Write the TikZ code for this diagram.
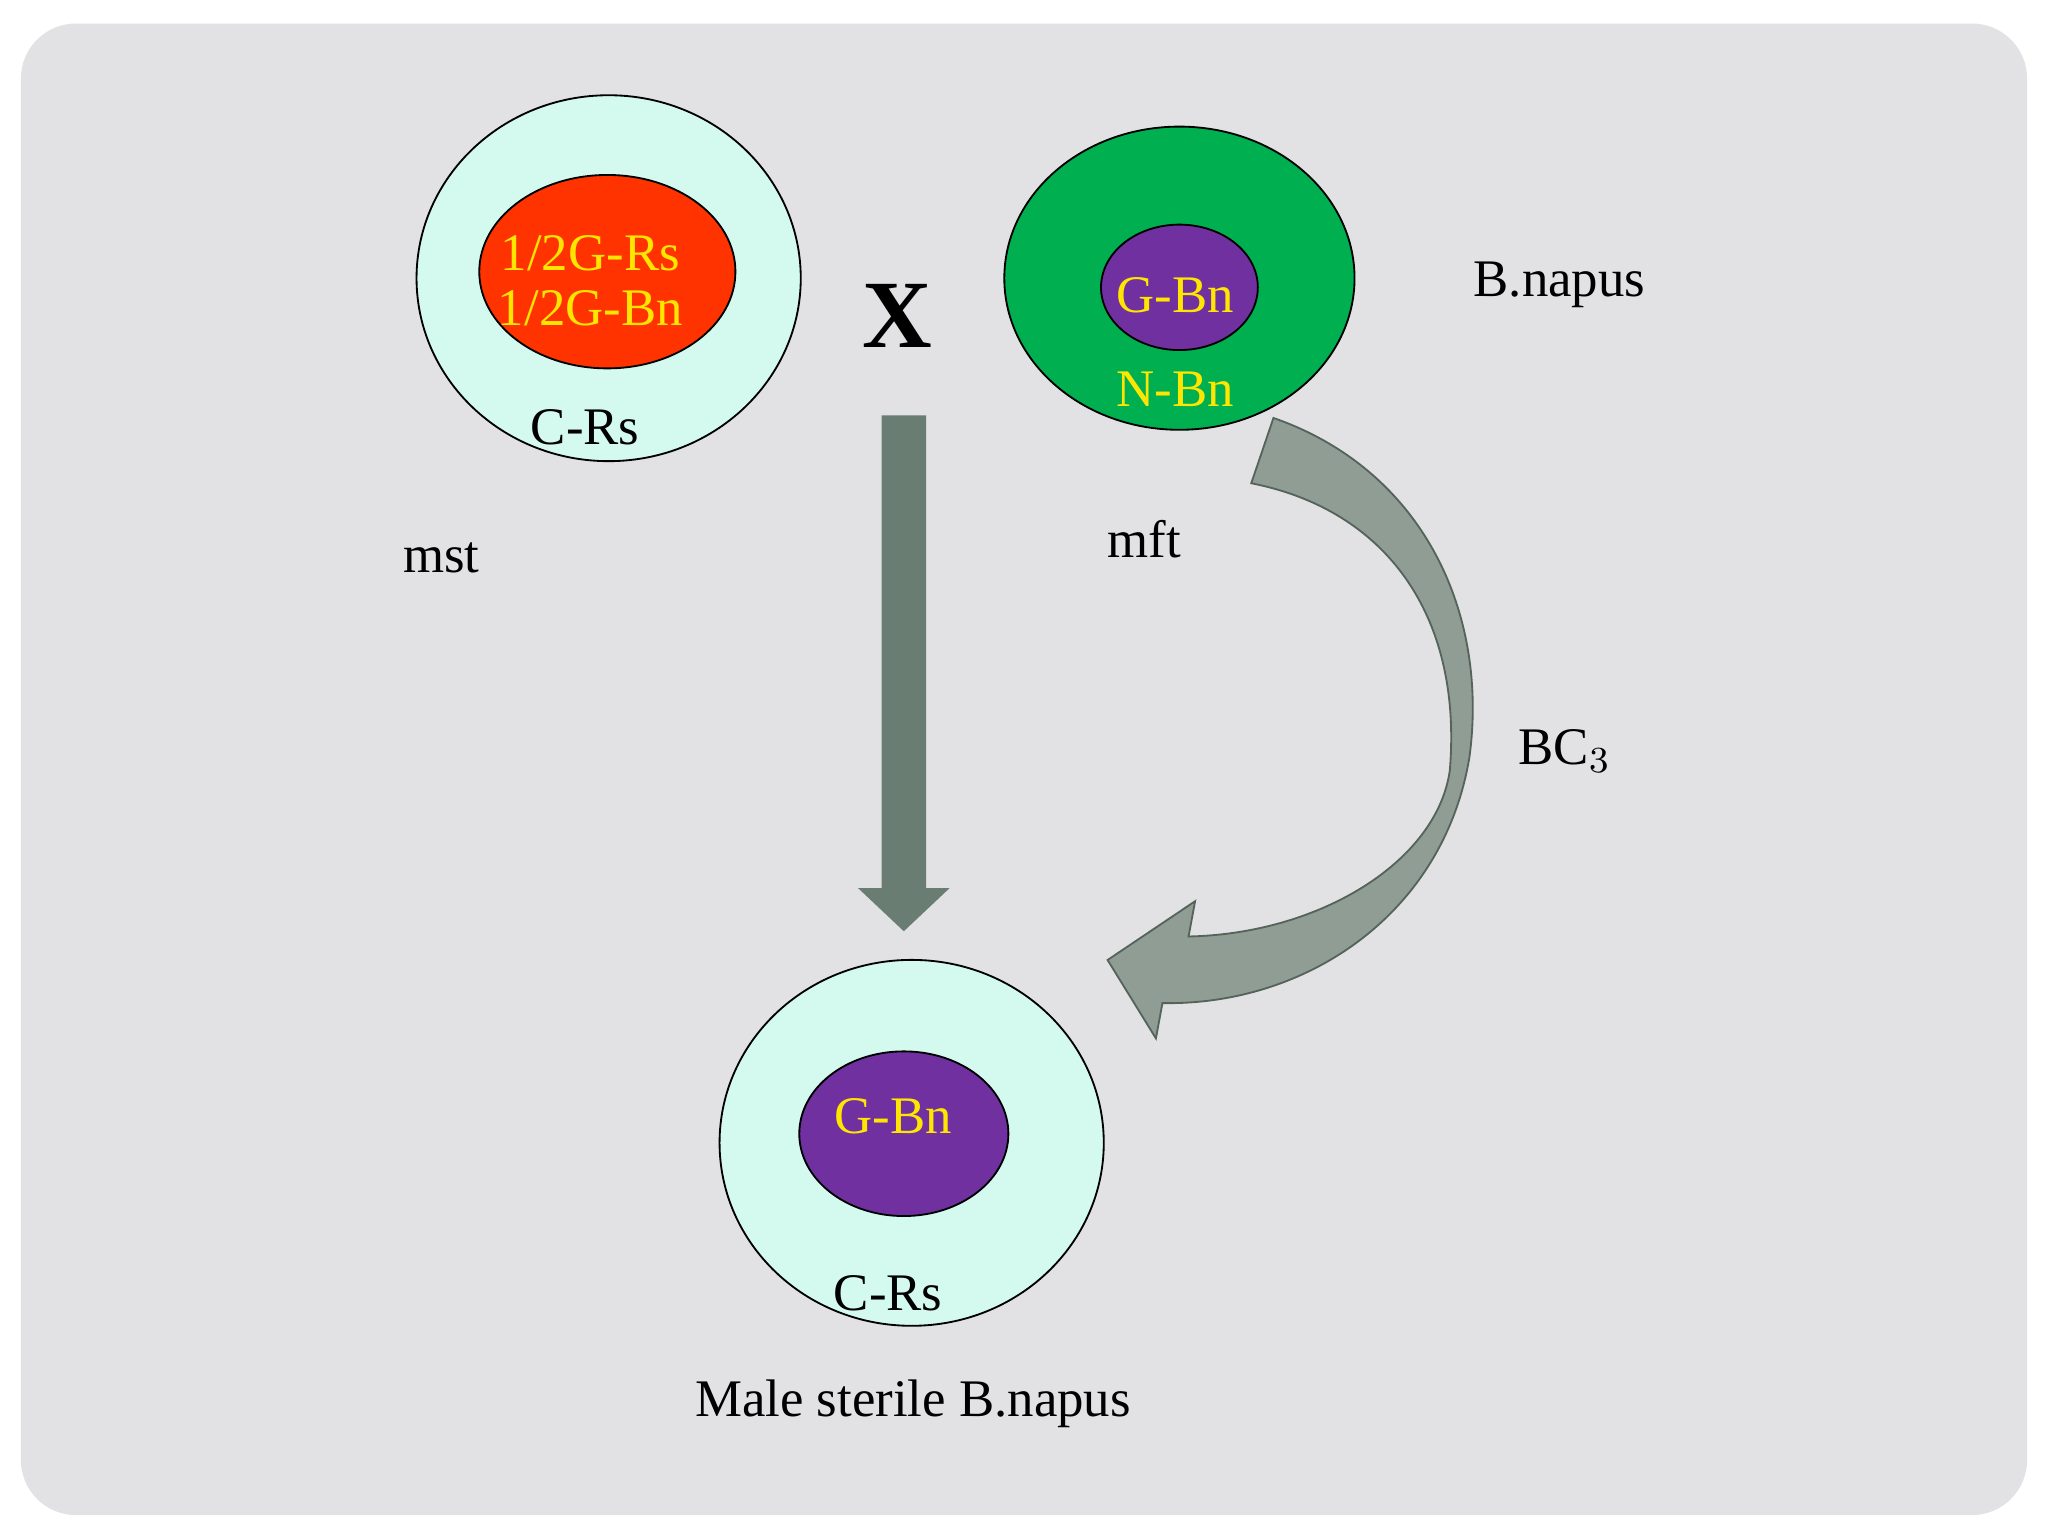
\documentclass[tikz,border=0pt]{standalone}
\usepackage{fontspec}
\setmainfont{Liberation Serif}
\usetikzlibrary{shapes.geometric,positioning}
\definecolor{slide}{HTML}{E2E2E4}
\definecolor{cyto}{HTML}{D4FAF0}
\definecolor{redn}{HTML}{FF3300}
\definecolor{greenn}{HTML}{00B050}
\definecolor{purplen}{HTML}{7030A0}
\definecolor{gold}{HTML}{FFE600}
\definecolor{arrowg}{HTML}{6A7D72}
\begin{document}
\begin{tikzpicture}[x=0.01cm,y=-0.01cm]
		\tikzstyle {cell} = [ellipse, draw=black, thin, inner sep=0pt]
		\tikzstyle {label} = [font=\fontsize{11.5}{13}\selectfont]
		\tikzstyle {gene} = [label, text=gold]

		\useasboundingbox (0,0) rectangle (1568,1176);
		\fill[white] (0,0) rectangle (1568,1176);
		\fill[slide, rounded corners=12] (16,18) rectangle (1552,1160);

		% mst parent
		\node[cell, fill=cyto, minimum width=2.94cm, minimum height=2.8cm] (mstcell) at (466,213) {};
		\node[cell, fill=redn, minimum width=1.96cm, minimum height=1.48cm] (mstnuc) at (465,208) {};
		\node[gene, align=center, inner sep=0pt] (mstgene) at (452,215) {1/2G-Rs\\[-1pt]1/2G-Bn};
		\node[label] (mstcyt) at (448,327) {C-Rs};
		\node[label] (mst) at (338,427) {mst};

		\node[font=\bfseries\fontsize{21}{23}\selectfont] (cross) at (687,242) {X};

		% mft parent
		\node[cell, fill=greenn, minimum width=2.68cm, minimum height=2.32cm] (mftcell) at (903,213) {};
		\node[cell, fill=purplen, minimum width=1.2cm, minimum height=0.96cm] (mftnuc) at (903,220) {};
		\node[gene] (mftgene) at (900,226) {G-Bn};
		\node[gene] (mftcyt) at (900,298) {N-Bn};
		\node[label] (bnapus) at (1194,218) {B.napus};
		\node[label] (mft) at (876,413) {mft};
		\node[label] (bc) at (1198,575) {BC$_3$};

		% arrows
		\fill[arrowg] (675,318) -- (709,318) -- (709,680) -- (727,680) -- (692,713)
			-- (657,680) -- (675,680) -- cycle;
		\draw[arrowg!80!black, fill=arrowg!75!white] (975,320)
			.. controls (1090,360) and (1140,470) .. (1125,580)
			.. controls (1105,700) and (1000,770) .. (890,768)
			-- (885,795) -- (848,735) -- (915,690) -- (910,717)
			.. controls (1010,715) and (1100,660) .. (1110,590)
			.. controls (1120,470) and (1060,390) .. (958,370) -- cycle;

		% offspring
		\node[cell, fill=cyto, minimum width=2.94cm, minimum height=2.8cm] (mscell) at (698,875) {};
		\node[cell, fill=purplen, minimum width=1.6cm, minimum height=1.26cm] (msnuc) at (692,868) {};
		\node[gene] (msgene) at (684,855) {G-Bn};
		\node[label] (mscyt) at (680,990) {C-Rs};
		\node[label] (ms) at (699,1075) {Male sterile B.napus};
\end{tikzpicture}
\end{document}
